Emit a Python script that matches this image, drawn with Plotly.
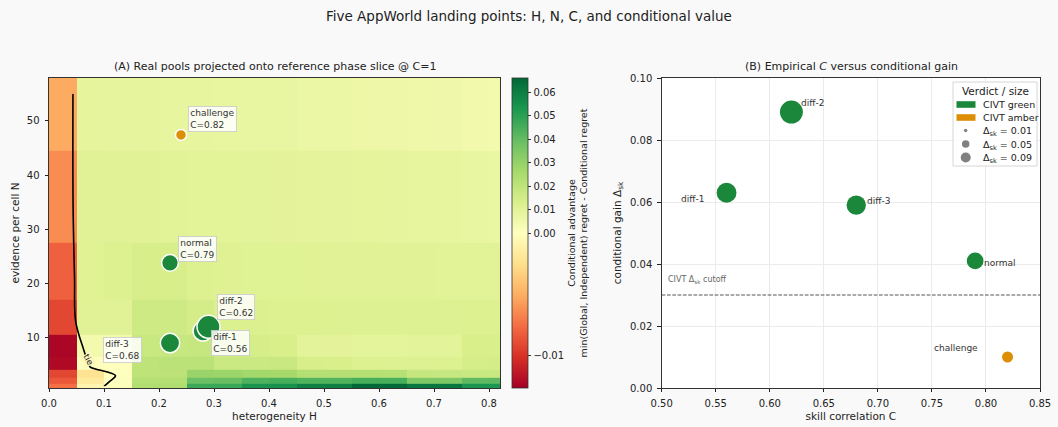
import plotly.graph_objects as go

# ---------------- data ----------------
H_CELLS = [0.025, 0.075, 0.125, 0.175, 0.225, 0.275, 0.325, 0.375, 0.425,
           0.475, 0.525, 0.575, 0.625, 0.675, 0.725, 0.775, 0.825]
N_CELLS = [1, 2, 3, 5, 8, 13, 21, 34, 55]

ADV_N1 = [-0.0075, -0.0008, 0.0008, 0.0235, 0.0238, 0.0470, 0.0475, 0.0540, 0.0545,
          0.0595, 0.0598, 0.0660, 0.0655, 0.0620, 0.0618, 0.0535, 0.0530]
ADV_N2 = [-0.0085, -0.0016, 0.0006, 0.0225, 0.0228, 0.0385, 0.0390, 0.0440, 0.0450,
          0.0430, 0.0432, 0.0452, 0.0450, 0.0345, 0.0342, 0.0410, 0.0412]
ADV_N3 = [-0.0092, -0.0022, 0.0002, 0.0205, 0.0208, 0.0290, 0.0285, 0.0270, 0.0262,
          0.0228, 0.0226, 0.0228, 0.0225, 0.0180, 0.0178, 0.0176, 0.0175]
ADV_N5 = [-0.0122, 0.0006, 0.0004, 0.0205, 0.0210, 0.0210, 0.0170, 0.0168, 0.0172,
          0.0136, 0.0134, 0.0116, 0.0115, 0.0114, 0.0116, 0.0140, 0.0142]
ADV_N8 = [-0.0124, 0.0042, 0.0045, 0.0175, 0.0178, 0.0180, 0.0145, 0.0140, 0.0135,
          0.0096, 0.0095, 0.0094, 0.0094, 0.0096, 0.0097, 0.0135, 0.0133]
ADV_N13 = [-0.0092, 0.0104, 0.0106, 0.0160, 0.0160, 0.0142, 0.0125, 0.0120, 0.0117,
           0.0116, 0.0115, 0.0115, 0.0114, 0.0114, 0.0113, 0.0116, 0.0117]
ADV_N21 = [-0.0081, 0.0108, 0.0118, 0.0138, 0.0138, 0.0116, 0.0112, 0.0110, 0.0110,
           0.0108, 0.0107, 0.0106, 0.0105, 0.0104, 0.0103, 0.0102, 0.0101]
ADV_N34 = [-0.0064, 0.0106, 0.0105, 0.0104, 0.0103, 0.0100, 0.0099, 0.0097, 0.0095,
           0.0091, 0.0090, 0.0088, 0.0087, 0.0083, 0.0082, 0.0076, 0.0074]
ADV_N55 = [-0.0052, 0.0088, 0.0087, 0.0086, 0.0085, 0.0080, 0.0078, 0.0077, 0.0075,
           0.0068, 0.0066, 0.0064, 0.0062, 0.0056, 0.0054, 0.0046, 0.0044]
ADVANTAGE = [ADV_N1, ADV_N2, ADV_N3, ADV_N5, ADV_N8, ADV_N13, ADV_N21, ADV_N34, ADV_N55]

POOL_NAMES = ["diff-1", "diff-2", "diff-3", "normal", "challenge"]
POOL_H = [0.28, 0.29, 0.22, 0.22, 0.24]
POOL_N = [11.2, 12.0, 9.0, 23.8, 47.4]
POOL_C = [0.56, 0.62, 0.68, 0.79, 0.82]
POOL_DELTA = [0.063, 0.089, 0.059, 0.041, 0.010]
POOL_VERDICT = ["green", "green", "green", "green", "amber"]

CUTOFF = 0.03
LEGEND_DELTAS = [0.01, 0.05, 0.09]
CBAR_TICKS = [-0.01, 0.0, 0.01, 0.02, 0.03, 0.04, 0.05, 0.06]
VMIN, VMAX = -0.0127, 0.066

X_TICKS_A = [0.0, 0.1, 0.2, 0.3, 0.4, 0.5, 0.6, 0.7, 0.8]
Y_TICKS_A = [10, 20, 30, 40, 50]
X_TICKS_B = [0.50, 0.55, 0.60, 0.65, 0.70, 0.75, 0.80, 0.85]
Y_TICKS_B = [0.00, 0.02, 0.04, 0.06, 0.08, 0.10]

# ---------------- style ----------------
FONT = "DejaVu Sans"
TXT = "#222222"
BG = "#f9f9f9"
VERDICT_COLORS = {"green": "#1a873a", "amber": "#dc8f05"}
RDYLGN = ["#a50026", "#d73027", "#f46d43", "#fdae61", "#fee08b", "#ffffbf",
          "#d9ef8b", "#a6d96a", "#66bd63", "#1a9850", "#006837"]
COLORSCALE = [[i / 10, c] for i, c in enumerate(RDYLGN)]

W, H = 1058, 427
ML, MR, MT, MB = 49, 18, 78, 39
PW, PH = W - ML - MR, H - MT - MB


def norm(v):
    """Two-slope normalisation (centre 0 -> 0.5)."""
    if v < 0:
        return 0.5 * (v - VMIN) / (0 - VMIN)
    return 0.5 + 0.5 * v / VMAX


def msize(d):
    return (69 + 5165 * d) ** 0.5


def px(x):
    return (x - ML) / PW


def py(y):
    return (H - MB - y) / PH


Z_NORM = [[norm(v) for v in row] for row in ADVANTAGE]

fig = go.Figure()

# heatmap (panel A)
fig.add_trace(go.Heatmap(
    x=H_CELLS, y=N_CELLS, z=Z_NORM, zmin=0, zmax=1,
    colorscale=COLORSCALE, xaxis="x", yaxis="y", hoverinfo="skip",
    colorbar=dict(
        x=px(512.3), xanchor="left", y=0.5, yanchor="middle",
        len=1, lenmode="fraction", thickness=15.5, xpad=0, ypad=0,
        outlinecolor="#333", outlinewidth=0.8,
        ticks="outside", ticklen=3.5, tickcolor="#333", tickwidth=0.8,
        tickvals=[norm(t) for t in CBAR_TICKS],
        ticktext=[("\u2212%.2f" % abs(t)) if t < 0 else "%.2f" % t for t in CBAR_TICKS],
        tickfont=dict(family=FONT, size=10, color=TXT),
        title=dict(text="Conditional advantage<br>min(Global, Independent) regret - Conditional regret",
                   side="right", font=dict(family=FONT, size=9.5, color=TXT)),
    ),
))

# zero ("tie") contour
fig.add_trace(go.Contour(
    x=H_CELLS, y=N_CELLS, z=ADVANTAGE, xaxis="x", yaxis="y",
    contours=dict(start=0, end=0, size=0.01, coloring="none", showlabels=False),
    line=dict(color="black", width=1.6), showscale=False, hoverinfo="skip",
))

# pools on panel A
fig.add_trace(go.Scatter(
    x=POOL_H, y=POOL_N, mode="markers", xaxis="x", yaxis="y", hoverinfo="skip",
    marker=dict(size=[msize(d) for d in POOL_DELTA],
                color=[VERDICT_COLORS[v] for v in POOL_VERDICT],
                line=dict(color="white", width=1.5), opacity=1),
    showlegend=False,
))

# pools on panel B
fig.add_trace(go.Scatter(
    x=POOL_C, y=POOL_DELTA, mode="markers", xaxis="x2", yaxis="y2", hoverinfo="skip",
    marker=dict(size=[msize(d) for d in POOL_DELTA],
                color=[VERDICT_COLORS[v] for v in POOL_VERDICT],
                line=dict(width=0), opacity=1),
    showlegend=False,
))

annotations = []
shapes = []

# panel A boxed labels
box_pos = {
    "challenge": dict(xanchor="left", yanchor="bottom", xshift=7, yshift=3),
    "normal": dict(xanchor="left", yanchor="bottom", xshift=8, yshift=1),
    "diff-2": dict(xanchor="left", yanchor="bottom", xshift=8, yshift=7),
    "diff-1": dict(xanchor="left", yanchor="top", xshift=8, yshift=1),
    "diff-3": dict(xanchor="right", yanchor="top", xshift=-28, yshift=6),
}
for name, h, n, c in zip(POOL_NAMES, POOL_H, POOL_N, POOL_C):
    annotations.append(dict(
        x=h, y=n, xref="x", yref="y", showarrow=False, align="left",
        text=f"{name}<br>C={c:.2f}",
        font=dict(family=FONT, size=9, color="#333"),
        bgcolor="rgba(255,255,255,0.85)", bordercolor="#c8c8c8", borderwidth=0.8,
        borderpad=1.5, **box_pos[name]))

# "tie" contour label (inline, masks the line beneath it)
annotations.append(dict(x=0.071, y=6.0, xref="x", yref="y", text="tie", showarrow=False,
                        xanchor="center", yanchor="middle", borderpad=0,
                        bgcolor="#fdf8ba",
                        textangle=62, font=dict(family=FONT, size=8.5, color="#222")))

# panel B point labels
lab_pos = {
    "diff-1": dict(xanchor="right", xshift=-21, yshift=-6),
    "diff-2": dict(xanchor="left", xshift=8, yshift=9),
    "diff-3": dict(xanchor="left", xshift=9, yshift=4),
    "normal": dict(xanchor="left", xshift=7, yshift=-2),
    "challenge": dict(xanchor="right", xshift=-28, yshift=9),
}
for name, c, d in zip(POOL_NAMES, POOL_C, POOL_DELTA):
    annotations.append(dict(x=c, y=d, xref="x2", yref="y2", text=name, showarrow=False,
                            yanchor="middle", font=dict(family=FONT, size=9, color="#333"),
                            **lab_pos[name]))

# cutoff line + label
shapes.append(dict(type="line", xref="x2 domain", yref="y2", x0=0, x1=1, y0=CUTOFF, y1=CUTOFF,
                   line=dict(color="#555", width=1, dash="3.7px,1.6px")))
annotations.append(dict(x=0.5, y=CUTOFF, xref="x2", yref="y2", xanchor="left", yanchor="middle",
                        xshift=4, yshift=15, showarrow=False,
                        text="CIVT \u0394<sub>sk</sub> cutoff",
                        font=dict(family=FONT, size=8, color="#666")))

# subplot titles & main title
annotations.append(dict(x=px(274.5), y=1, xref="paper", yref="paper", xanchor="center",
                        yanchor="bottom", yshift=3, showarrow=False,
                        text="(A) Real pools projected onto reference phase slice @ C=1",
                        font=dict(family=FONT, size=11, color=TXT)))
annotations.append(dict(x=px(851), y=1, xref="paper", yref="paper", xanchor="center",
                        yanchor="bottom", yshift=3, showarrow=False,
                        text="(B) Empirical <i>C</i> versus conditional gain",
                        font=dict(family=FONT, size=11, color=TXT)))
annotations.append(dict(x=px(529), y=py(16), xref="paper", yref="paper", xanchor="center",
                        yanchor="middle", showarrow=False,
                        text="Five AppWorld landing points: H, N, C, and conditional value",
                        font=dict(family=FONT, size=13.5, color=TXT)))

# manual legend for panel B
shapes.append(dict(type="rect", xref="paper", yref="paper",
                   x0=px(953), x1=px(1037), y0=py(82), y1=py(166),
                   fillcolor="rgba(255,255,255,0.85)", line=dict(color="#cccccc", width=0.8)))
annotations.append(dict(x=px(995), y=py(91), xref="paper", yref="paper", showarrow=False,
                        xanchor="center", yanchor="middle",
                        text="Verdict / size", font=dict(family=FONT, size=10.5, color=TXT)))
leg_rows = [104.5, 117.5, 130.5, 144, 157.5]
for verdict, yy in zip(["green", "amber"], leg_rows[:2]):
    shapes.append(dict(type="rect", xref="paper", yref="paper",
                       x0=px(956.5), x1=px(975.5), y0=py(yy + 3.3), y1=py(yy - 3.3),
                       fillcolor=VERDICT_COLORS[verdict], line=dict(width=0)))
    annotations.append(dict(x=px(981), y=py(yy), xref="paper", yref="paper", xanchor="left",
                            yanchor="middle", showarrow=False, text=f"CIVT {verdict}",
                            font=dict(family=FONT, size=9.5, color=TXT)))
for d, yy in zip(LEGEND_DELTAS, leg_rows[2:]):
    r = (1 + 1100 * d) ** 0.5 / 2
    shapes.append(dict(type="circle", xref="paper", yref="paper",
                       xsizemode="pixel", ysizemode="pixel",
                       xanchor=px(965.7), yanchor=py(yy), x0=-r, x1=r, y0=-r, y1=r,
                       fillcolor="#808080", line=dict(width=0)))
    annotations.append(dict(x=px(981), y=py(yy), xref="paper", yref="paper", xanchor="left",
                            yanchor="middle", yshift=-1, showarrow=False,
                            text=f"\u0394<sub>sk</sub> = {d:.2f}",
                            font=dict(family=FONT, size=9.5, color=TXT)))

axis_common = dict(ticks="outside", ticklen=3.5, tickwidth=0.8, tickcolor="#222",
                   ticklabelstandoff=3, automargin=False,
                   showline=True, linecolor="#333", linewidth=0.9, mirror=True,
                   zeroline=False, tickfont=dict(family=FONT, size=10, color=TXT))

fig.update_layout(
    width=W, height=H,
    margin=dict(l=ML, r=MR, t=MT, b=MB, pad=0, autoexpand=False),
    paper_bgcolor=BG, plot_bgcolor="white",
    showlegend=False,
    font=dict(family=FONT, size=10, color=TXT),
    xaxis=dict(domain=[0, px(500)], range=[0, 0.82], tickvals=X_TICKS_A,
               ticktext=[f"{t:.1f}" for t in X_TICKS_A], showgrid=False,
               title=dict(text="heterogeneity H", standoff=4,
                          font=dict(family=FONT, size=10.5, color=TXT)),
               anchor="y", **axis_common),
    yaxis=dict(domain=[0, 1], range=[0.7, 57.9], tickvals=Y_TICKS_A,
               ticktext=[str(t) for t in Y_TICKS_A], showgrid=False,
               title=dict(text="evidence per cell N", standoff=5,
                          font=dict(family=FONT, size=10.5, color=TXT)),
               anchor="x", **axis_common),
    xaxis2=dict(domain=[px(661.7), 1], range=[0.5, 0.85], tickvals=X_TICKS_B,
                ticktext=[f"{t:.2f}" for t in X_TICKS_B], showgrid=True,
                gridcolor="#ebebeb", gridwidth=1,
                title=dict(text="skill correlation C", standoff=4,
                           font=dict(family=FONT, size=10.5, color=TXT)),
                anchor="y2", **axis_common),
    yaxis2=dict(domain=[0, 1], range=[0, 0.1], tickvals=Y_TICKS_B,
                ticktext=[f"{t:.2f}" for t in Y_TICKS_B], showgrid=True,
                gridcolor="#ebebeb", gridwidth=1,
                title=dict(text="conditional gain \u0394<sub>sk</sub>", standoff=6,
                           font=dict(family=FONT, size=10.5, color=TXT)),
                anchor="x2", **axis_common),
    annotations=annotations,
    shapes=shapes,
)

fig.write_html(
    "out.html",
    config={"displayModeBar": False},
    post_script="document.body.style.margin='0px';document.body.style.background='%s';" % BG,
)
